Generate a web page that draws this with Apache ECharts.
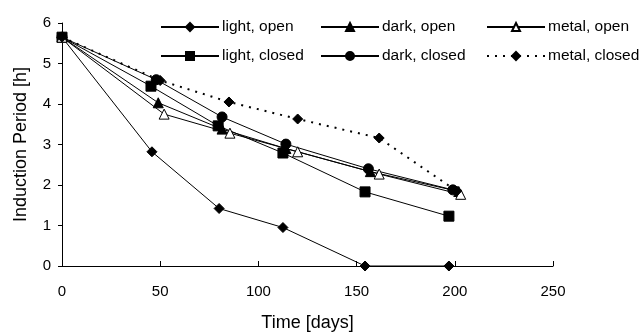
<!DOCTYPE html>
<html><head><meta charset="utf-8">
<script src="https://cdn.jsdelivr.net/npm/echarts@6/dist/echarts.min.js"></script>
<style>html,body{margin:0;padding:0;background:#fff}#c{width:644px;height:332px}</style>
</head><body><div id="c"></div>
<script>
const xTicks = [0, 50, 100, 150, 200, 250];
const lightOpen   = [[0,5.65],[45.8,2.82],[80,1.42],[112.5,0.95],[154.3,0],[197,0]];
const lightClosed = [[0,5.65],[45.3,4.44],[79.5,3.46],[112.5,2.79],[154.3,1.83],[197,1.23]];
const darkOpen    = [[0,5.65],[49,4.03],[81.5,3.38],[114,2.9],[157,2.33],[202,1.84]];
const darkClosed  = [[0,5.65],[48,4.6],[81.5,3.68],[114,3.01],[156,2.4],[199,1.88]];
const metalOpen   = [[0,5.65],[52,3.75],[85.5,3.28],[120,2.82],[161.5,2.27],[203,1.77]];
const metalClosed = [[0,5.65],[50,4.58],[85,4.05],[120,3.63],[161.5,3.16],[201,1.85]];

const font = 'Liberation Sans, Arial, sans-serif';
function s(name, data, symbol, size, opts) {
  return Object.assign({
    name, type: 'line', data, symbol, symbolSize: size,
    lineStyle: {color: '#000', width: 1},
    itemStyle: {color: '#000', borderColor: '#000', borderWidth: 1},
    animation: false
  }, opts || {});
}
const chart = echarts.init(document.getElementById('c'));
const legendBase = {
  orient: 'vertical', top: 14, itemWidth: 58, itemHeight: 10, itemGap: 13,
  textStyle: {fontFamily: font, fontSize: 15.5, color: '#000', padding: [0,0,0,-2]}
};
chart.setOption({
  backgroundColor: '#fff',
  textStyle: {fontFamily: font},
  legend: [
    Object.assign({}, legendBase, {left: 155, data: ['light, open', 'light, closed']}),
    Object.assign({}, legendBase, {left: 315, data: ['dark, open', 'dark, closed']}),
    Object.assign({}, legendBase, {left: 481, data: ['metal, open', 'metal, closed']})
  ],
  grid: {left: 62, right: 91, top: 23, bottom: 66, containLabel: false, outerBoundsMode: 'none'},
  xAxis: {
    type: 'value', min: 0, max: 250, interval: 50,
    name: 'Time [days]', nameLocation: 'middle', nameGap: 48,
    nameTextStyle: {fontFamily: font, fontSize: 18, color: '#000'},
    axisLine: {lineStyle: {color: '#000', width: 1}},
    axisTick: {show: true, length: 5, inside: true, lineStyle: {color: '#000'}},
    axisLabel: {fontFamily: font, fontSize: 15, color: '#000', margin: 18},
    splitLine: {show: false}
  },
  yAxis: {
    type: 'value', min: 0, max: 6, interval: 1,
    name: 'Induction Period [h]', nameLocation: 'middle', nameGap: 32,
    nameTextStyle: {fontFamily: font, fontSize: 18, color: '#000'},
    axisLine: {show: true, lineStyle: {color: '#000', width: 1}},
    axisTick: {show: true, length: 4, lineStyle: {color: '#000'}},
    axisLabel: {fontFamily: font, fontSize: 15, color: '#000', margin: 11},
    splitLine: {show: false}
  },
  series: [
    s('light, open', lightOpen, 'diamond', 10),
    s('light, closed', lightClosed, 'rect', 10),
    s('dark, open', darkOpen, 'triangle', 10),
    s('dark, closed', darkClosed, 'circle', 10),
    s('metal, open', metalOpen, 'triangle', 10, {itemStyle: {color: '#fff', borderColor: '#000', borderWidth: 1}}),
    s('metal, closed', metalClosed, 'diamond', 10, {lineStyle: {color: '#000', width: 2, type: [2, 6]}})
  ]
});
</script></body></html>
